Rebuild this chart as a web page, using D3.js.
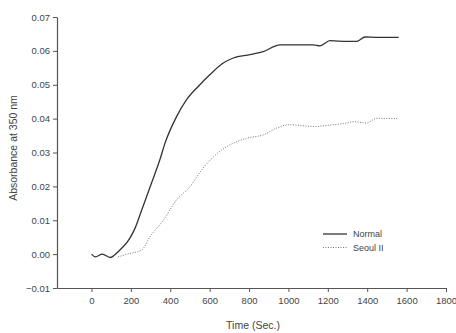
<!DOCTYPE html>
<html>
<head>
<meta charset="utf-8">
<script src="https://cdn.jsdelivr.net/npm/d3@7"></script>
<style>
  body { margin: 0; background: #fff; }
  text { font-family: "Liberation Sans", Arial, sans-serif; fill: #444; }
</style>
</head>
<body>
<div id="chart"></div>
<script>
// Time (sec) and absorbance values
const normalTime = [0, 20, 55, 95, 135, 195, 221, 255, 305, 348, 373, 432, 483, 542, 602, 669, 720, 805, 872, 957, 1040, 1126, 1160, 1211, 1296, 1346, 1389, 1450, 1560];
const normalAbs  = [0, -0.0008, 0, -0.001, 0.0007, 0.0047, 0.0076, 0.013, 0.021, 0.028, 0.0327, 0.0406, 0.0456, 0.0495, 0.053, 0.0564, 0.0579, 0.0589, 0.0598, 0.0618, 0.0618, 0.0618, 0.0615, 0.063, 0.0628, 0.0628, 0.0641, 0.064, 0.064];

const seoulTime = [135, 195, 255, 297, 365, 432, 500, 560, 640, 686, 788, 872, 940, 999, 1126, 1228, 1296, 1329, 1397, 1448, 1558];
const seoulAbs  = [-0.0008, 0.0002, 0.0012, 0.0051, 0.01, 0.016, 0.0199, 0.0249, 0.0298, 0.0317, 0.0342, 0.0352, 0.0372, 0.0382, 0.0377, 0.0382, 0.0387, 0.0391, 0.0387, 0.0401, 0.040];

const xTicks = [0, 200, 400, 600, 800, 1000, 1200, 1400, 1600, 1800];
const yTicks = [-0.01, 0, 0.01, 0.02, 0.03, 0.04, 0.05, 0.06, 0.07];
const seriesNames = ["Normal", "Seoul II"];

const width = 456, height = 333;
const svg = d3.select("#chart").append("svg")
  .attr("width", width)
  .attr("height", height);

const x = d3.scaleLinear().domain([-175, 1800]).range([57, 446]);
const y = d3.scaleLinear().domain([-0.01, 0.07]).range([288, 17]);

// x axis
const xAxis = svg.append("g")
  .attr("transform", `translate(0,${y(-0.01)})`)
  .call(d3.axisBottom(x).tickValues(xTicks).tickSize(4).tickSizeOuter(0).tickFormat(d3.format("d")));

// y axis
const yAxis = svg.append("g")
  .attr("transform", `translate(${x(-175)},0)`)
  .call(d3.axisLeft(y).tickValues(yTicks).tickSize(4).tickSizeOuter(0).tickFormat(d3.format(".2f")));

[xAxis, yAxis].forEach(g => {
  g.select(".domain").attr("stroke", "#555").attr("stroke-width", 1.2);
  g.selectAll(".tick line").attr("stroke", "#555");
  g.selectAll(".tick text").attr("font-size", 9.5).style("fill", "#444");
});
xAxis.selectAll(".tick text").attr("dy", "0.9em");
yAxis.selectAll(".tick text").attr("x", -7);

// axis titles
svg.append("text")
  .attr("x", 253).attr("y", 329)
  .attr("text-anchor", "middle")
  .attr("font-size", 10.5)
  .text("Time (Sec.)");

svg.append("text")
  .attr("transform", "translate(17,148) rotate(-90)")
  .attr("text-anchor", "middle")
  .attr("font-size", 10.5)
  .text("Absorbance at 350 nm");

const line = d3.line()
  .x(d => x(d[0]))
  .y(d => y(d[1]))
  .curve(d3.curveMonotoneX);

const normal = normalTime.map((t, i) => [t, normalAbs[i]]);
const seoul = seoulTime.map((t, i) => [t, seoulAbs[i]]);

svg.append("path")
  .datum(normal)
  .attr("d", line)
  .attr("fill", "none")
  .attr("stroke", "#333")
  .attr("stroke-width", 1.3);

svg.append("path")
  .datum(seoul)
  .attr("d", line)
  .attr("fill", "none")
  .attr("stroke", "#777")
  .attr("stroke-width", 1)
  .attr("stroke-dasharray", "1,1.5");

// legend
const legend = svg.append("g").attr("transform", "translate(323,234)");
seriesNames.forEach((name, i) => {
  const row = legend.append("g").attr("transform", `translate(0,${i * 13.5})`);
  row.append("line")
    .attr("x1", 0).attr("x2", 24)
    .attr("y1", 0).attr("y2", 0)
    .attr("stroke", i === 0 ? "#333" : "#777")
    .attr("stroke-width", i === 0 ? 1.3 : 1)
    .attr("stroke-dasharray", i === 0 ? null : "1,1.5");
  row.append("text")
    .attr("x", 30).attr("y", 0)
    .attr("dy", "0.35em")
    .attr("font-size", 9)
    .text(name);
});
</script>
</body>
</html>
